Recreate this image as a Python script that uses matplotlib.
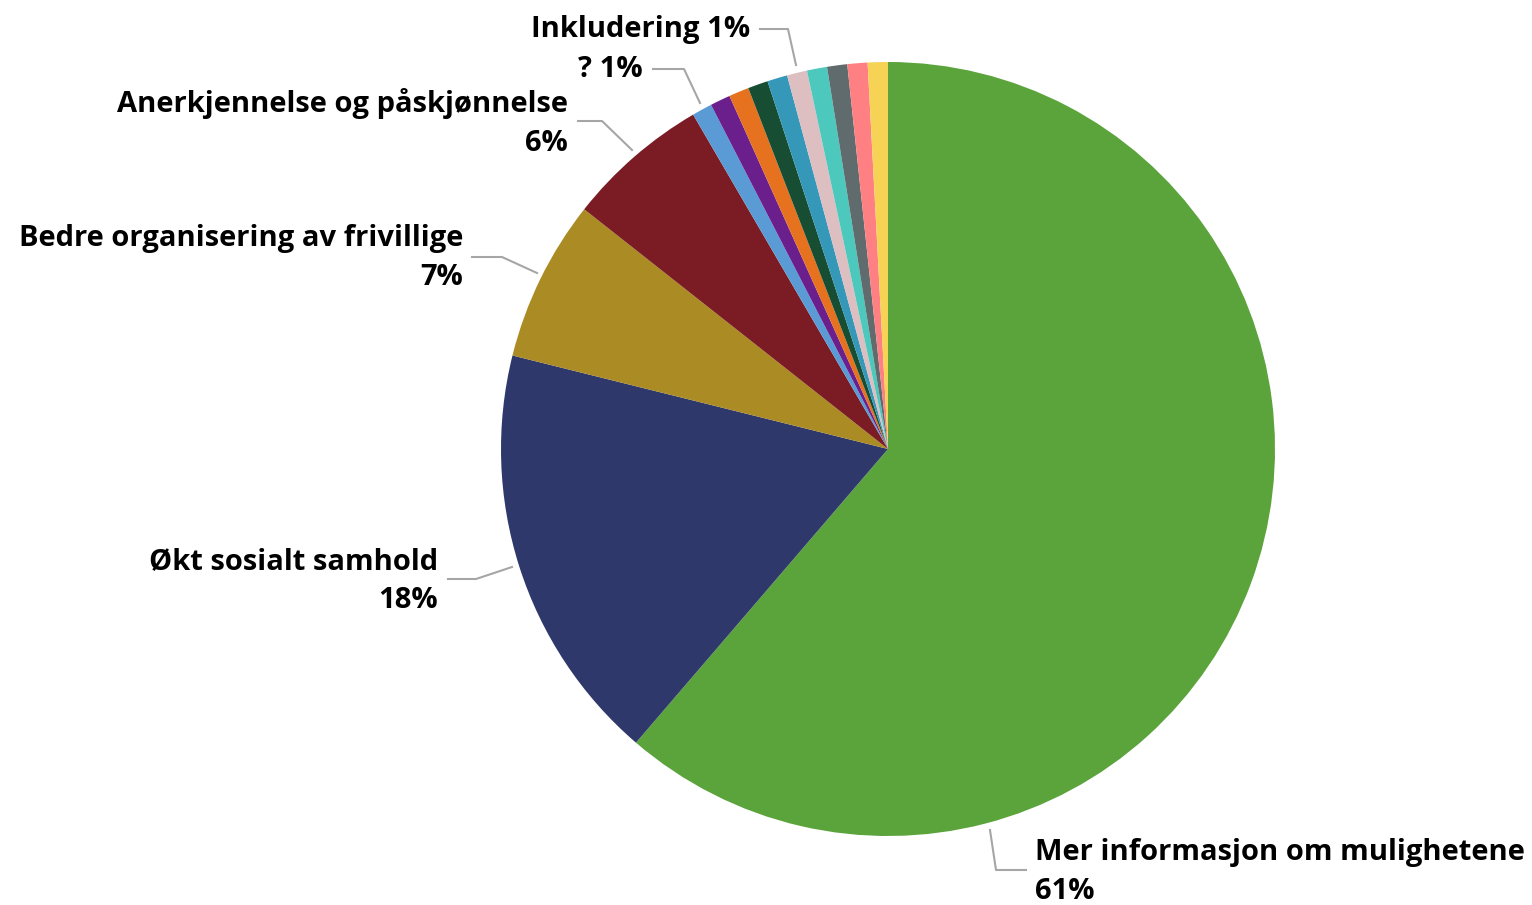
import matplotlib.pyplot as plt

# andel per kategori (lest av vinkler i figuren)
kategorier = ["Mer informasjon om mulighetene", "Økt sosialt samhold",
              "Bedre organisering av frivillige", "Anerkjennelse og påskjønnelse",
              "?", "k6", "k7", "k8", "k9", "Inkludering", "k11", "k12", "k13", "k14"]
verdier = [61.3, 17.6, 6.75, 5.97, 0.84, 0.84, 0.84, 0.84, 0.84, 0.84, 0.84, 0.84, 0.84, 0.84]
prosent_tekst = ["61%", "18%", "7%", "6%", "1%", "1%", "1%", "1%", "1%", "1%", "1%", "1%", "1%", "1%"]
farger = ["#5BA33B", "#2E386B", "#AB8B24", "#7B1C24", "#5B9BD5", "#6A1F8C", "#E6711F",
          "#174D32", "#3698B9", "#DDBFC1", "#4CC8BC", "#5F6B6D", "#FF8083", "#F6D255"]

W, H = 1532, 905
cx, cy, R = 888, 449, 387

fig = plt.figure(figsize=(W/100, H/100), dpi=100)
ax = fig.add_axes([(cx-R)/W, (H-cy-R)/H, 2*R/W, 2*R/H])
ax.pie(verdier, colors=farger, startangle=90, counterclock=False,
       wedgeprops=dict(linewidth=0))
ax.set_xlim(-1, 1)
ax.set_ylim(-1, 1)
ax.set_aspect("equal")
ax.axis("off")

def d(px, py):
    return ((px-cx)/R, (cy-py)/R)

# (indeks, tekst, tekstpos, linjepunkter, justering)
etiketter = [
    (0, "{}\n{}", (1035, 872), [(990, 830), (996, 870), (1026, 870)], "left"),
    (1, "{}\n{}", (438, 581), [(512, 567), (476, 579), (448, 579)], "right"),
    (2, "{}\n{}", (463, 258), [(537, 273), (502, 257), (472, 257)], "right"),
    (3, "{}\n{}", (568, 123), [(632, 150), (602, 121), (578, 121)], "right"),
    (4, "{} {}", (643, 69), [(700, 103), (684, 69), (653, 69)], "right"),
    (9, "{} {}", (750, 29), [(796, 65), (788, 29), (760, 29)], "right"),
]
for i, fmt, pos, pts, ha in etiketter:
    xs, ys = zip(*[d(*p) for p in pts])
    ax.plot(xs, ys, color="#A6A6A6", lw=1.5, clip_on=False)
    ax.text(*d(*pos), fmt.format(kategorier[i], prosent_tekst[i]), ha=ha, va="center",
            fontsize=21, fontweight="bold", family="Open Sans", linespacing=1.45,
            clip_on=False)

fig.savefig("out.png", dpi=100)
